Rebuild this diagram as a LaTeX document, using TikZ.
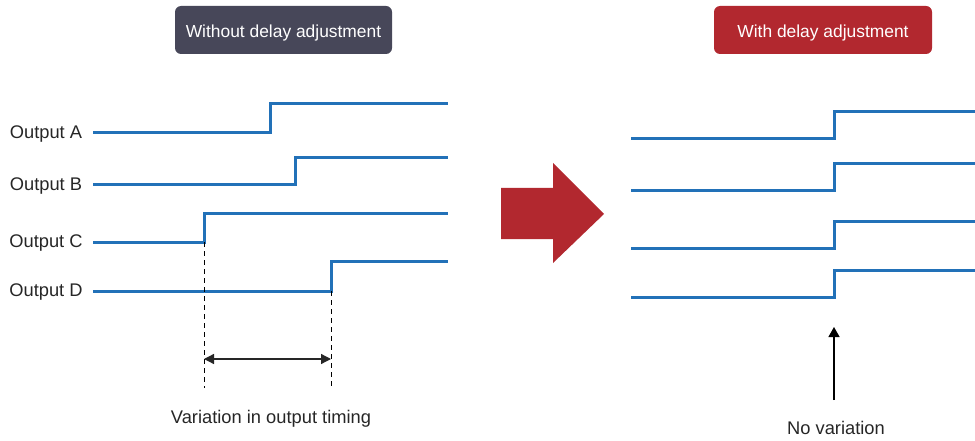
\documentclass[tikz,border=0pt]{standalone}
\usepackage{fontspec}
\setmainfont{Liberation Sans}
\usetikzlibrary{arrows.meta}
\definecolor{sigblue}{HTML}{2271B8}
\definecolor{hdrgray}{HTML}{474759}
\definecolor{hdrred}{HTML}{B2282F}
\definecolor{txtgray}{HTML}{262626}
\tikzset{
  header/.style={rounded corners=6pt, minimum width=217pt, minimum height=48pt,
    inner sep=0pt, text height=15pt, text depth=0pt, text=white,
    font=\fontsize{17.4}{20}\selectfont},
  signal/.style={sigblue, line width=3pt},
  siglabel/.style={anchor=base, text=txtgray, inner sep=0pt, font=\fontsize{18.3}{21}\selectfont},
  caption/.style={anchor=base, text=txtgray, inner sep=0pt, font=\fontsize{18.3}{21}\selectfont},
  guide/.style={black, line width=1pt, dash pattern=on 5pt off 4pt},
  span/.style={txtgray, line width=1.3pt, {Triangle[length=10pt,width=10pt]}-{Triangle[length=10pt,width=10pt]}},
  pointer/.style={black, line width=1.3pt, -{Triangle[length=10pt,width=11pt]}}
}
\begin{document}
\begin{tikzpicture}[x=1pt, y=-1pt]
\useasboundingbox (0,0) rectangle (975,441);
% headers
\node[header, fill=hdrgray] (withoutHdr) at (283.5,30) {Without delay adjustment};
\node[header, fill=hdrred, minimum width=218pt] (withHdr) at (823,30) {With delay adjustment};
% without adjustment
\foreach \n/\lo/\hi/\t in {A/133/104/270, B/185/158/295, C/242/213/204, D/291/261/331} {
\node[siglabel] (out\n) at (46,\lo+5.5) {Output \n};
\draw[signal] (93,\lo) -- (\t,\lo) -- (\t,\hi) -- (448,\hi);
}
\coordinate (earlyTop) at (204,242);
\coordinate (earlyBot) at (204,388);
\coordinate (lateTop) at (331,291);
\coordinate (lateBot) at (331,388);
\draw[guide] (earlyTop) -- (earlyBot);
\draw[guide] (lateTop) -- (lateBot);
\coordinate (spanL) at (204,359);
\coordinate (spanR) at (331,359);
\draw[span] (spanL) -- (spanR);
\node[caption] (varText) at (271,423) {Variation in output timing};
% big arrow
\fill[hdrred] (501,188) -- (553,188) -- (553,163) -- (604,214) -- (553,263) -- (553,239) -- (501,239) -- cycle;
% with adjustment
\foreach \lo/\hi in {139/112, 191/164, 248/221, 297/270} {
\draw[signal] (631,\lo) -- (834,\lo) -- (834,\hi) -- (975,\hi);
}
\coordinate (noVarBot) at (834,400);
\coordinate (noVarTop) at (834,327);
\draw[pointer] (noVarBot) -- (noVarTop);
\node[caption] (noVarText) at (836,434) {No variation};
\end{tikzpicture}
\end{document}
